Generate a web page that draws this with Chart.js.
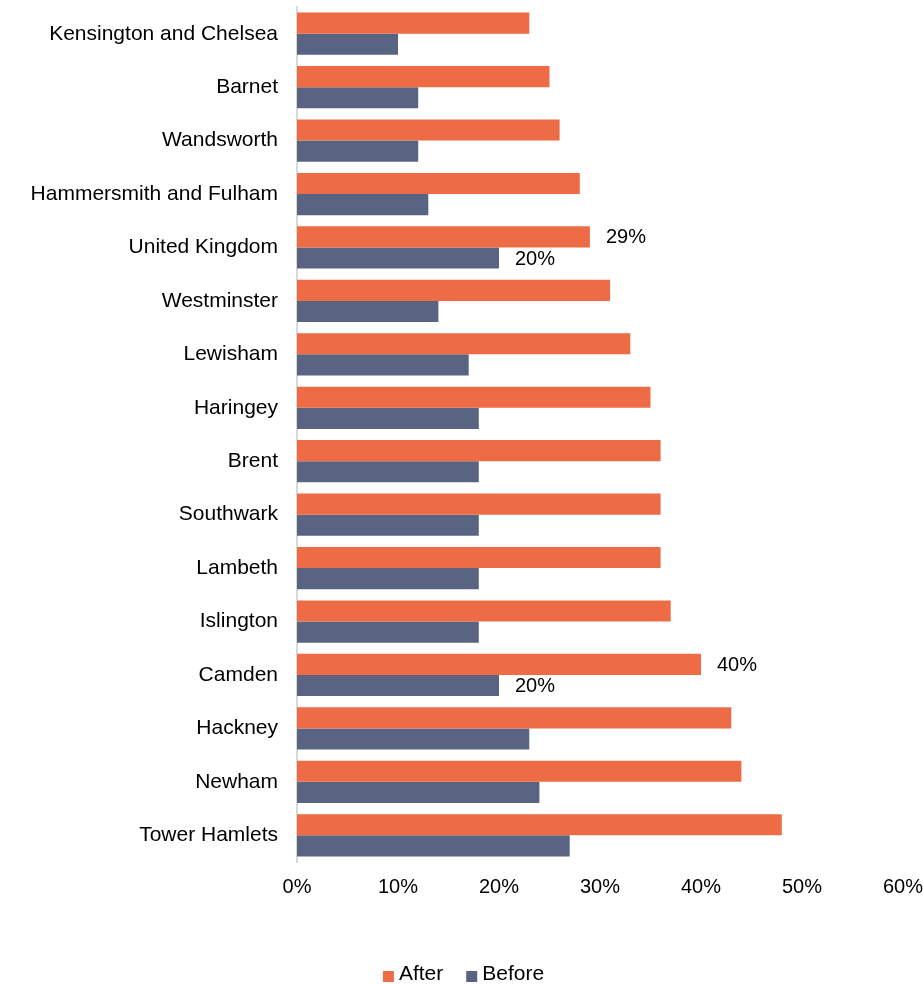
<!DOCTYPE html>
<html>
<head>
<meta charset="utf-8">
<script src="https://cdn.jsdelivr.net/npm/chart.js@4"></script>
<style>
  html, body { margin: 0; padding: 0; background: #fff; }
  #wrap { width: 923px; height: 984px; }
</style>
</head>
<body>
<div id="wrap"><canvas id="boroughChart" width="923" height="984"></canvas></div>
<script>
const boroughs = ['Kensington and Chelsea', 'Barnet', 'Wandsworth', 'Hammersmith and Fulham',
    'United Kingdom', 'Westminster', 'Lewisham', 'Haringey', 'Brent', 'Southwark', 'Lambeth',
    'Islington', 'Camden', 'Hackney', 'Newham', 'Tower Hamlets'];
const afterValues = [23, 25, 26, 28, 29, 31, 33, 35, 36, 36, 36, 37, 40, 43, 44, 48];
const beforeValues = [10, 12, 12, 13, 20, 14, 17, 18, 18, 18, 18, 18, 20, 23, 24, 27];
const labelledRows = ['United Kingdom', 'Camden'];
const xTicks = [0, 10, 20, 30, 40, 50, 60];

const FONT = '"Liberation Sans", Arial, sans-serif';

// value labels only on a couple of rows
const barLabels = {
    id: 'barLabels',
    afterDatasetsDraw(chart) {
        const ctx = chart.ctx;
        ctx.save();
        ctx.font = '20px ' + FONT;
        ctx.fillStyle = '#000';
        ctx.textAlign = 'left';
        ctx.textBaseline = 'middle';
        chart.data.datasets.forEach((ds, di) => {
            const meta = chart.getDatasetMeta(di);
            meta.data.forEach((bar, i) => {
                if (!labelledRows.includes(boroughs[i])) return;
                ctx.fillText(ds.data[i] + '%', bar.x + 16, bar.y + 1);
            });
        });
        ctx.restore();
    }
};

// small square legend at the bottom, drawn by hand to get the tight spacing
const squareLegend = {
    id: 'squareLegend',
    afterDraw(chart) {
        const ctx = chart.ctx;
        const box = 11, gap = 5, itemGap = 23, y = 974;
        ctx.save();
        ctx.font = '21px ' + FONT;
        ctx.textBaseline = 'middle';
        const items = chart.data.datasets.map(ds => ({
            text: ds.label,
            color: ds.backgroundColor,
            w: box + gap + ctx.measureText(ds.label).width
        }));
        const total = items.reduce((s, it) => s + it.w, 0) + itemGap * (items.length - 1);
        let x = (chart.width - total) / 2 + 2;
        items.forEach(it => {
            ctx.fillStyle = it.color;
            ctx.fillRect(x, y - 3, box, box);
            ctx.fillStyle = '#000';
            ctx.fillText(it.text, x + box + gap, y);
            x += it.w + itemGap;
        });
        ctx.restore();
    }
};

document.addEventListener('DOMContentLoaded', function() {
    const ctx = document.getElementById('boroughChart').getContext('2d');
    new Chart(ctx, {
        type: 'bar',
        data: {
            labels: boroughs,
            datasets: [{
                label: 'After',
                data: afterValues,
                backgroundColor: '#ED6C45'
            }, {
                label: 'Before',
                data: beforeValues,
                backgroundColor: '#596483'
            }]
        },
        options: {
            indexAxis: 'y',
            responsive: false,
            animation: false,
            datasets: {
                bar: { categoryPercentage: 0.79, barPercentage: 1.0 }
            },
            layout: { padding: { top: 7, right: 20, bottom: 0, left: 0 } },
            scales: {
                x: {
                    min: 0,
                    max: 60,
                    afterBuildTicks(scale) {
                        scale.ticks = xTicks.map(v => ({ value: v }));
                    },
                    afterFit(scale) {
                        scale.height = 122;
                        scale.paddingLeft = 0;
                        scale.paddingRight = 0;
                    },
                    grid: { display: false, drawTicks: false },
                    border: { display: false },
                    ticks: {
                        padding: 13,
                        color: '#000',
                        font: { family: FONT, size: 20 },
                        callback: v => v + '%'
                    }
                },
                y: {
                    afterFit(scale) {
                        scale.width = 297;
                        scale.paddingTop = 0;
                        scale.paddingBottom = 0;
                    },
                    grid: { display: false, drawTicks: false },
                    border: { display: true, color: '#d9d9d9', width: 2 },
                    ticks: {
                        padding: 19,
                        color: '#000',
                        font: { family: FONT, size: 21 }
                    }
                }
            },
            plugins: {
                legend: { display: false },
                tooltip: { enabled: false }
            }
        },
        plugins: [barLabels, squareLegend]
    });
});
</script>
</body>
</html>
